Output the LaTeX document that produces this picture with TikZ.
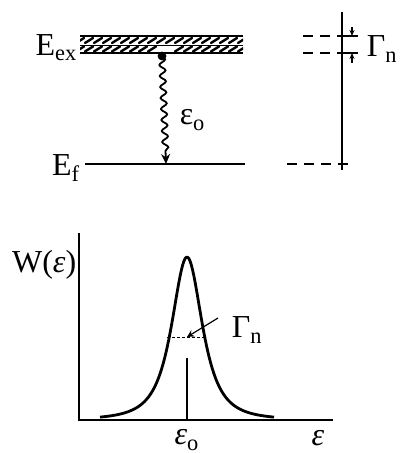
\documentclass[tikz,border=0pt]{standalone}
\usepackage{fontspec}
\setmainfont{Liberation Serif}
\usetikzlibrary{decorations.pathmorphing,arrows.meta}

\begin{document}
\begin{tikzpicture}[x=0.5pt,y=-0.5pt,>=stealth,line width=0.8pt,
  lbl/.style={font=\fontsize{16}{18}\selectfont,inner sep=0pt},
  hatch/.style={line width=1.2pt,line cap=round},
  guide/.style={line width=0.7pt,dash pattern=on 5pt off 3.5pt},
  small/.style={line width=0.6pt,-{Stealth[length=3pt,width=2.5pt]}}]
  \useasboundingbox (0,0) rectangle (402,453);
  % upper part: levels
  \coordinate (exTL) at (80,36);  \coordinate (exTR) at (243,36);
  \coordinate (exML) at (80,45);  \coordinate (exMR) at (243,45);
  \coordinate (exBL) at (80,53);  \coordinate (exBR) at (243,53);
  \coordinate (fL) at (85,164);   \coordinate (fR) at (245,164);
  \draw (exTL) -- (exTR);
  \draw[line width=0.4pt] (exML) -- (exMR);
  \draw (exBL) -- (exBR);
  \draw (fL) -- (fR);
  \begin{scope}
    \clip (80,36) rectangle (243,53);
    \foreach \x in {76,85,...,240} {
      \draw[hatch] (\x,43) -- (\x+8,38);
    }
    \foreach \x in {76,85,...,240} {
      \ifnum\x<150 \draw[hatch] (\x,51.5) -- (\x+8,46.5);
      \else\ifnum\x>166 \draw[hatch] (\x,51.5) -- (\x+8,46.5); \fi\fi
    }
  \end{scope}
  \node[lbl,anchor=east] (Eex) at (78,48) {E\textsubscript{ex}};
  \node[lbl,anchor=east] (Ef) at (81,168) {E\textsubscript{f}};
  % transition
  \coordinate (wtop) at (162,56);
  \coordinate (wbot) at (166,164);
  \fill (wtop) circle (2.2pt);
  \draw[-{Stealth[length=5pt,width=4.5pt]},line width=0.9pt,decorate,
    decoration={snake,amplitude=1.5pt,segment length=5.5pt,post length=5pt}]
    (wtop) -- (wbot);
  \node[lbl,anchor=west] (eps) at (179,120) {ε\textsubscript{o}};
  % upper part: width
  \coordinate (vtop) at (342,12); \coordinate (vbot) at (342,170);
  \draw (vtop) -- (vbot);
  \coordinate (g1) at (303,36); \coordinate (g1e) at (358,36);
  \coordinate (g2) at (303,53); \coordinate (g2e) at (358,53);
  \coordinate (g3) at (287,164); \coordinate (g3e) at (352,164);
  \draw[guide] (g1) -- (vtop |- g1);
  \draw[line width=0.7pt] (vtop |- g1) -- (g1e);
  \draw[guide] (g2) -- (vtop |- g2);
  \draw[line width=0.7pt] (vtop |- g2) -- (g2e);
  \draw[guide] (g3) -- (g3e);
  \coordinate (a1) at (352,27); \coordinate (a2) at (352,63);
  \draw[small] (a1) -- (a1 |- g1);
  \draw[small] (a2) -- (a2 |- g2);
  \node[lbl,anchor=west] (Gtop) at (366,49) {Γ\textsubscript{n}};
  % lower part: line shape
  \coordinate (O) at (79,420);
  \coordinate (yend) at (79,233);
  \coordinate (xend) at (333,420);
  \draw (yend) -- (O) -- (xend);
  \draw[line width=1.4pt,line join=round]
    plot[domain=100:274,samples=140]
    (\x,{420-163/((1+((\x-187)/23.5)^2)*sqrt(1+((\x-187)/23.5)^2))});
  \coordinate (hL) at (167,337); \coordinate (hR) at (206,337);
  \coordinate (hC) at (187,337);
  \draw[line width=0.5pt,dash pattern=on 1.5pt off 1pt] (hL) -- (hR);
  \coordinate (tick) at (187,358);
  \draw (tick) -- (tick |- O);
  \coordinate (gfrom) at (218,318);
  \draw[line width=0.6pt,->] (gfrom) -- (hC);
  \node[lbl,anchor=west] (Gbot) at (231,330) {Γ\textsubscript{n}};
  \node[lbl,anchor=east] (W) at (77,265) {W(\textit{ε})};
  \node[lbl] (e0) at (187,440) {\textit{ε}\textsubscript{o}};
  \node[lbl] (eaxis) at (318,438) {\textit{ε}};
\end{tikzpicture}
\end{document}
